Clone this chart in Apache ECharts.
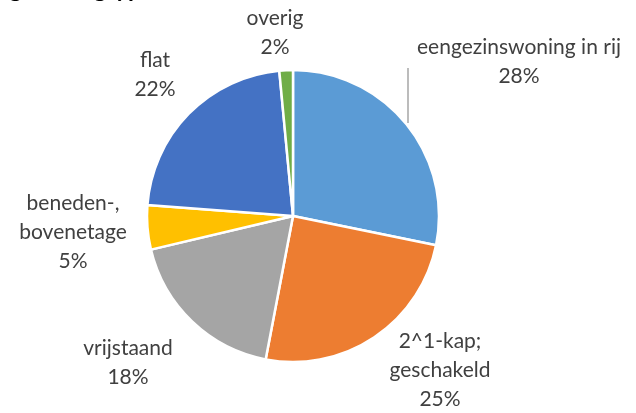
<!DOCTYPE html>
<html>
<head>
<meta charset="utf-8">
<script src="https://cdn.jsdelivr.net/npm/echarts@6/dist/echarts.min.js"></script>
<style>
  html, body { margin: 0; padding: 0; background: #fff; }
  #chart { width: 636px; height: 413px; }
</style>
</head>
<body>
<div id="chart"></div>
<script>
var categories = ['eengezinswoning in rij', '2^1-kap;\ngeschakeld', 'vrijstaand', 'beneden-,\nbovenetage', 'flat', 'overig'];
var values = [28.2, 24.8, 18.3, 4.9, 22.3, 1.5];
var colors = ['#5B9BD5', '#ED7D31', '#A5A5A5', '#FFC000', '#4472C4', '#70AD47'];

// label centres relative to the pie centre (layout only)
var labelOffsets = [[226, -154], [147, 154], [-165, 147], [-220, 16], [-138, -141], [-18, -183]];

var cx = 293, cy = 216, r = 146;

var chart = echarts.init(document.getElementById('chart'));

var data = categories.map(function (name, i) {
  var d = { name: name, value: values[i], itemStyle: { color: colors[i] } };
  if (i === 0) d.labelLine = { show: true };
  return d;
});

var option = {
  animation: false,
  title: {
    text: 'Verdeling woningtype',
    left: -84,
    top: -28,
    textStyle: { fontFamily: 'Lato', fontSize: 24, fontWeight: 'bold', color: '#000' }
  },
  series: [
    {
      type: 'pie',
      center: [cx, cy],
      radius: r,
      startAngle: 90,
      percentPrecision: 0,
      itemStyle: { borderColor: '#fff', borderWidth: 2.5 },
      label: {
        position: 'outside',
        formatter: '{b}\n{d}%',
        fontFamily: 'Lato',
        fontSize: 21,
        lineHeight: 29,
        color: '#404040',
        overflow: 'none',
        width: 300
      },
      labelLine: { show: false, lineStyle: { color: '#A6A6A6', width: 1.5 } },
      labelLayout: function (params) {
        var o = labelOffsets[params.dataIndex];
        var x = cx + o[0], y = cy + o[1];
        var res = { x: x, y: y, align: 'center', verticalAlign: 'middle' };
        if (params.dataIndex === 0) {
          // vertical leader line just left of the label, down to the pie edge
          var lx = 408;
          var edge = cy - Math.sqrt(r * r - (lx - cx) * (lx - cx));
          res.labelLinePoints = [[lx, y + 6], [lx, edge - 3], [lx, edge - 3]];
        }
        return res;
      },
      data: data
    }
  ]
};

chart.setOption(option);
</script>
</body>
</html>
